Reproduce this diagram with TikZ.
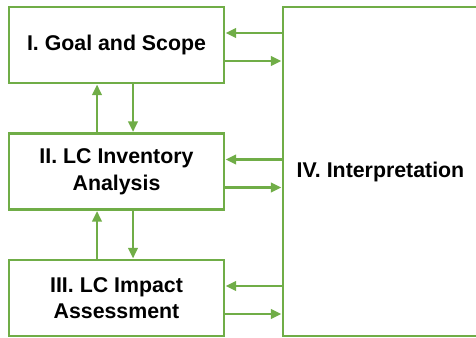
\documentclass[tikz,border=0pt]{standalone}
\usepackage{fontspec}
\setmainfont{Liberation Sans}
\usetikzlibrary{arrows.meta}
\definecolor{lcagreen}{RGB}{112,173,71}

\begin{document}
\begin{tikzpicture}[x=0.75pt, y=-0.75pt, >={Triangle[length=8pt,width=7pt]}]

\tikzset{
  every stage/.style={draw=lcagreen, line width=2.2pt, fill=white, align=center,
    inner sep=0pt, font=\fontsize{16}{20}\selectfont\bfseries},
  every link/.style={draw=lcagreen, line width=2pt}
}

\useasboundingbox (0,0) rectangle (476,338);

\foreach \n/\t [count=\y] in {goal/{I. Goal and Scope}, inventory/{II. LC Inventory\\Analysis}, impact/{III. LC Impact\\Assessment}}
  \node [every stage/.try, minimum width=161.25pt, minimum height=57pt] (\n) at (116.5,{45+(\y-1)*126.5}) {\t};

\node [every stage/.try, minimum width=146.25pt, minimum height=246.75pt] (interp) at (380.5,171.5) {IV. Interpretation};

\foreach \n in {goal,inventory,impact} {
  \draw [every link/.try, <-] ([yshift=9pt]\n.east) -- ([yshift=9pt]\n.east -| interp.west);
  \draw [every link/.try, ->] ([yshift=-12pt]\n.east) -- ([yshift=-12pt]\n.east -| interp.west);
}

\foreach \a/\b in {goal/inventory, inventory/impact} {
  \draw [every link/.try, <-] ([xshift=-14.6pt]\a.south) -- ([xshift=-14.6pt]\b.north);
  \draw [every link/.try, ->] ([xshift=12.4pt]\a.south) -- ([xshift=12.4pt]\b.north);
}

\end{tikzpicture}
\end{document}
